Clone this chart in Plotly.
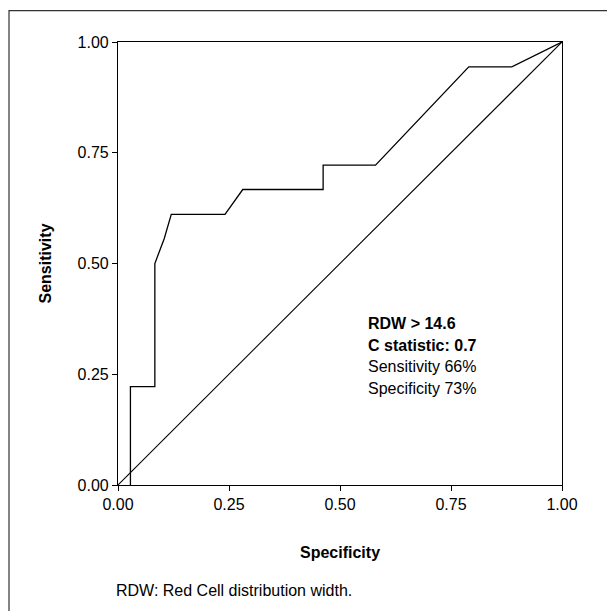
import plotly.graph_objects as go

# ROC curve points
roc_x = [0.028, 0.028, 0.083, 0.083, 0.104, 0.120, 0.241, 0.281, 0.462, 0.462, 0.580, 0.790, 0.887, 1.0]
roc_y = [0.0, 0.222, 0.222, 0.500, 0.556, 0.611, 0.611, 0.667, 0.667, 0.722, 0.722, 0.944, 0.944, 1.0]
ref_x = [0.0, 1.0]
ref_y = [0.0, 1.0]
tick_vals = [0.0, 0.25, 0.5, 0.75, 1.0]
tick_text = ["0.00", "0.25", "0.50", "0.75", "1.00"]
note_lines = ["<b>RDW > 14.6</b>", "<b>C statistic: 0.7</b>", "Sensitivity 66%", "Specificity 73%"]
note_y = [0.3655, 0.3158, 0.2684, 0.2186]

FONT = "Liberation Sans, Arial, sans-serif"
FS = 16

fig = go.Figure()
fig.add_trace(go.Scatter(x=roc_x, y=roc_y, mode="lines",
                         line=dict(color="black", width=1.3), showlegend=False, hoverinfo="skip"))
fig.add_trace(go.Scatter(x=ref_x, y=ref_y, mode="lines",
                         line=dict(color="black", width=1.1), showlegend=False, hoverinfo="skip"))

axis_common = dict(range=[0, 1], tickvals=tick_vals, ticktext=tick_text, showgrid=False,
                   zeroline=False, showline=True, linecolor="black", linewidth=1.2,
                   mirror=True, ticks="outside", ticklen=5, tickcolor="black", tickwidth=1.2,
                   tickfont=dict(family=FONT, size=FS, color="black"))
fig.update_xaxes(**axis_common)
fig.update_yaxes(**axis_common)

ann = []
for t, yy in zip(note_lines, note_y):
    ann.append(dict(x=0.5586, y=yy, xref="paper", yref="paper", text=t, showarrow=False,
                    xanchor="left", yanchor="middle",
                    font=dict(family=FONT, size=FS, color="black")))
ann.append(dict(x=-0.1644, y=0.5, xref="paper", yref="paper", text="<b>Sensitivity</b>",
                showarrow=False, textangle=-90, xanchor="center", yanchor="middle",
                font=dict(family=FONT, size=FS, color="black")))
ann.append(dict(x=0.5, y=-0.152, xref="paper", yref="paper", text="<b>Specificity</b>",
                showarrow=False, xanchor="center", yanchor="middle",
                font=dict(family=FONT, size=FS, color="black")))
ann.append(dict(x=-0.009, y=-0.2385, xref="paper", yref="paper",
                text="RDW: Red Cell distribution width.", showarrow=False,
                xanchor="left", yanchor="middle",
                font=dict(family=FONT, size=FS, color="black")))

fig.update_layout(
    width=607, height=603,
    margin=dict(l=110, r=53, t=34, b=126),
    paper_bgcolor="white", plot_bgcolor="white",
    annotations=ann,
    shapes=[dict(type="rect", xref="paper", yref="paper", x0=-0.2455, y0=-0.35,
                 x1=1.2, y1=1.0708, line=dict(color="#333333", width=1.2), layer="below")],
)

fig.write_html("out.html")
